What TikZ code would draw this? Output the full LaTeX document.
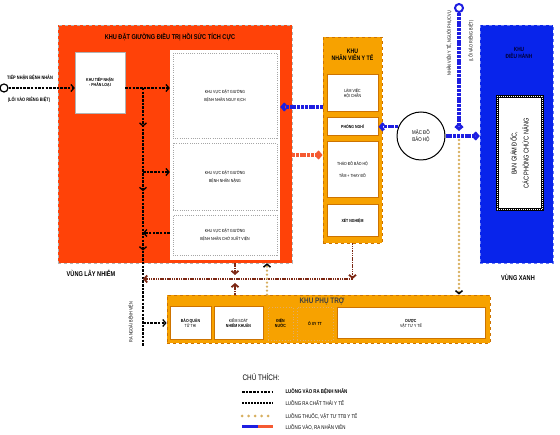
\documentclass[tikz,border=0pt]{standalone}
\usepackage{fontspec}
\setmainfont{Liberation Sans}[FakeStretch=0.8]
\usetikzlibrary{arrows.meta,positioning,decorations.markings}

\definecolor{vungdo}{RGB}{255,66,8}
\definecolor{camkhu}{RGB}{247,162,0}
\definecolor{viencam}{RGB}{205,115,0}
\definecolor{xanhkhu}{RGB}{8,36,235}
\definecolor{nauthai}{RGB}{125,40,20}
\definecolor{vangthuoc}{RGB}{215,175,95}
\definecolor{xanhnv}{RGB}{30,30,225}
\definecolor{donv}{RGB}{245,90,50}

\newcommand{\chunho}{\fontsize{4.4}{8}\selectfont}
\newcommand{\chuvua}{\fontsize{5.5}{6.5}\selectfont}
\newcommand{\chulon}{\fontsize{7}{8}\selectfont\bfseries}

\tikzset{
  muiten/.style={-{Straight Barb[length=3pt,width=7pt]}},
  luongbn/.style={black,line width=1.3pt,dash pattern=on 2.5pt off 1.2pt},
  luongrac/.style={nauthai,line width=1.8pt,dash pattern=on 1.5pt off 0.8pt},
  luongthuoc/.style={vangthuoc,line width=2.6pt,line cap=round,dash pattern=on 0pt off 4pt},
  luongnv/.style={xanhnv,line width=3.2pt,dash pattern=on 3pt off 0.8pt},
  luongra/.style={donv,line width=3.2pt,dash pattern=on 3pt off 0.8pt},
  vungcam/.style={draw=viencam,dashed,fill=camkhu,line width=0.8pt},
  ophong/.style={draw=viencam,fill=white,line width=1pt,font=\chunho,align=center},
  ophu/.style={draw=viencam!60,dotted,fill=camkhu,line width=0.8pt,font=\chunho\bfseries,align=center},
  ogiuong/.style={draw=gray!70,dash pattern=on 1pt off 1.2pt,line width=0.8pt,font=\chunho,align=center},
  cuavao/.style={circle,draw,fill=white,line width=1.2pt,minimum size=8pt,inner sep=0pt},
  nhan/.style={font=\chunho,align=center}
}

\begin{document}
\begin{tikzpicture}[x=1pt,y=-1pt]
\useasboundingbox (0,0) rectangle (560,435);

\node[draw=gray!60,dashed,fill=vungdo,minimum width=234pt,minimum height=238pt] (khuDo) at (175,144) {};
\node[font=\chulon] (tieuDeDo) at (170,37) {KHU ĐẶT GIƯỜNG ĐIỀU TRỊ HỒI SỨC TÍCH CỰC};
\node[draw=gray!60,fill=white,minimum width=50pt,minimum height=61pt,font=\chunho\bfseries,align=center] (tiepNhan) at (100,82.5) {KHU TIẾP NHẬN\\[-3pt]- PHÂN LOẠI};
\node[fill=white,minimum width=110pt,minimum height=210pt] (vungTrang) at (225,155) {};
\node[ogiuong,minimum width=104pt,minimum height=85pt] (nguyKich) at (225,95.5) {KHU VỰC ĐẶT GIƯỜNG\\BỆNH NHÂN NGUY KỊCH};
\node[ogiuong,minimum width=104pt,minimum height=67pt] (nang) at (225,176.5) {KHU VỰC ĐẶT GIƯỜNG\\BỆNH NHÂN NẶNG};
\node[ogiuong,minimum width=104pt,minimum height=40pt] (choXV) at (225,235) {KHU VỰC ĐẶT GIƯỜNG\\BỆNH NHÂN CHỜ XUẤT VIỆN};
\node[font=\chulon] (vungLay) at (91,273) {VÙNG LÂY NHIỄM};

\node[cuavao] (vaoBN) at (4,88) {};
\node[nhan,font=\fontsize{4.9}{5}\selectfont\bfseries] (nhanVaoBN) at (30,78) {TIẾP NHẬN BỆNH NHÂN};
\node[nhan,font=\fontsize{4.9}{5}\selectfont\bfseries] (nhanLoiBN) at (29,100) {(LỐI VÀO RIÊNG BIỆT)};

\node[vungcam,minimum width=59pt,minimum height=206pt] (khuNV) at (352.5,140) {};
\node[font=\fontsize{6.5}{6.5}\selectfont\bfseries,align=center] (tieuDeNV) at (352.5,55) {KHU\\NHÂN VIÊN Y TẾ};
\node[ophong,minimum width=51pt,minimum height=37pt] (lamViec) at (352.5,93.5) {LÀM VIỆC\\[-3pt]HỘI CHẨN};
\node[ophong,minimum width=51pt,minimum height=18pt,font=\chunho\bfseries] (phongNghi) at (352.5,127) {PHÒNG NGHỈ};
\node[ophong,minimum width=51pt,minimum height=56pt] (thaoDo) at (352.5,170) {THÁO ĐỒ BẢO HỘ\\[4pt]TẮM + THAY ĐỒ};
\node[ophong,minimum width=51pt,minimum height=32pt,font=\chunho\bfseries] (xetNghiem) at (352.5,221) {XÉT NGHIỆM};

\node[circle,draw,fill=white,line width=1pt,minimum size=48pt,font=\chuvua,align=center] (macDo) at (421,136) {MẶC ĐỒ\\BẢO HỘ};

\node[cuavao,draw=xanhnv,line width=2pt] (vaoNV) at (459,8) {};
\node[nhan,rotate=90,font=\fontsize{4.8}{5}\selectfont] (nhanVaoNV) at (449,43) {NHÂN VIÊN Y TẾ, NGƯỜI PHỤC VỤ};
\node[nhan,rotate=90,font=\fontsize{4.8}{5}\selectfont] (nhanLoiNV) at (471,41) {(LỐI VÀO RIÊNG BIỆT)};

\node[draw=xanhkhu!60,dashed,fill=xanhkhu,minimum width=73pt,minimum height=238pt] (khuDH) at (516.5,144) {};
\node[font=\fontsize{6}{6.5}\selectfont\bfseries,text=blue!20!black,align=center] (tieuDeDH) at (519,53) {KHU\\ĐIỀU HÀNH};
\node[draw=black,fill=white,line width=3pt,minimum width=45pt,minimum height=113pt,
  postaction={draw=white,line width=1pt,dash pattern=on 0.8pt off 1.2pt}] (banGD) at (519.5,153.5) {};
\node[rotate=90,font=\fontsize{7}{12}\selectfont,align=center] (nhanBanGD) at (banGD) {BAN GIÁM ĐỐC,\\CÁC PHÒNG CHỨC NĂNG};
\node[font=\chulon] (vungXanh) at (518,277) {VÙNG XANH};

\node[vungcam,minimum width=323pt,minimum height=48pt] (khuPT) at (328.5,319) {};
\node[font=\fontsize{8}{8}\selectfont\bfseries,text=black!75] (tieuDePT) at (322,301) {KHU PHỤ TRỢ};
\node[ophong,minimum width=41pt,minimum height=33pt] (baoQuan) at (190.5,323.5) {\textbf{BẢO QUẢN}\\[-3pt]TỬ THI};
\node[ophong,minimum width=49pt,minimum height=33pt] (kiemSoat) at (238.5,323.5) {KIỂM SOÁT\\[-3pt]\textbf{NHIỄM KHUẨN}};
\node[ophu,minimum width=25pt,minimum height=33pt] (dienNuoc) at (280.5,323.5) {ĐIỆN\\[-3pt]NƯỚC};
\node[ophu,minimum width=36pt,minimum height=33pt] (oxy) at (315,323.5) {Ô XY TT};
\node[ophong,minimum width=148pt,minimum height=31pt] (duoc) at (411,323.5) {\textbf{DƯỢC}\\[-3pt]VẬT TƯ Y TẾ};
\node[nhan,rotate=90,font=\fontsize{4.8}{5}\selectfont] (nhanRaNgoai) at (131,322) {RA NGOÀI BỆNH VIỆN};

\coordinate (j1) at (143,88);
\coordinate (j2) at (143,172);
\coordinate (j3) at (143,233);
\coordinate (j4) at (143,279);
\coordinate (j5) at (143,323);
\coordinate (raNgoai) at (143,346);
\coordinate (r1) at (352.5,279);
\coordinate (r2) at (235,279);
\coordinate (t1) at (267,0);
\coordinate (b2) at (459,136);
\coordinate (b3) at (323,107);
\coordinate (d1) at (292,155);

\draw[luongbn,muiten] (vaoBN) -- (tiepNhan.west |- vaoBN);
\draw[luongbn,muiten] (tiepNhan.east |- j1) -- (vungTrang.west |- j1);
\draw[luongbn,postaction={decorate},decoration={markings,
  mark=at position 0.15 with {\arrow{Straight Barb[length=3pt,width=7pt]}},
  mark=at position 0.40 with {\arrow{Straight Barb[length=3pt,width=7pt]}},
  mark=at position 0.63 with {\arrow{Straight Barb[length=3pt,width=7pt]}}}] (j1) -- (raNgoai);
\draw[luongbn,muiten] (j2) -- (vungTrang.west |- j2);
\draw[luongbn,muiten] (vungTrang.west |- j3) -- (j3);
\draw[luongbn,muiten] (j5) -- (khuPT.west |- j5);

\draw[luongrac,muiten] (khuNV.south) -- (r1);
\draw[luongrac,muiten] (r1) -- (j4);
\draw[luongrac,muiten,shorten >=4pt] (khuDo.south -| r2) -- (r2);
\draw[luongrac,muiten,shorten >=4pt] (khuPT.north -| r2) -- (r2);

\draw[luongthuoc,-{Straight Barb[length=3pt,width=7pt,black,line width=1.5pt]}] (khuPT.north -| t1) -- (khuDo.south -| t1);
\draw[luongthuoc,-{Straight Barb[length=3pt,width=7pt,black,line width=1.5pt]}] (b2) -- (khuPT.north -| b2);

\draw[luongnv,muiten,shorten >=5pt] (vaoNV) -- (b2);
\draw[luongnv,muiten] (macDo.east) -- (khuDH.west |- macDo.east);
\draw[luongnv,muiten] (macDo.158) -- (phongNghi.east |- macDo.158);
\draw[luongnv,muiten] (b3) -- (vungTrang.east |- b3);
\draw[luongra,muiten] (d1) -- (khuNV.west |- d1);

\node[anchor=west,font=\fontsize{8}{8}\selectfont] (chuThich) at (239,377) {CHÚ THÍCH:};
\coordinate (l1a) at (242,392); \coordinate (l1b) at (273,392);
\coordinate (l2a) at (242,403); \coordinate (l2b) at (273,403);
\coordinate (l3a) at (242,416); \coordinate (l3b) at (273,416);
\coordinate (l4a) at (242,427); \coordinate (l4m) at (258,427); \coordinate (l4b) at (273,427);
\draw[black,line width=1.2pt,dash pattern=on 2.5pt off 1.2pt] (l1a) -- (l1b);
\draw[black,line width=1.2pt,dash pattern=on 1.5pt off 1.5pt] (l2a) -- (l2b);
\draw[vangthuoc,line width=3pt,line cap=round,dash pattern=on 0pt off 6.5pt] (l3a) -- (l3b);
\draw[xanhnv,line width=3pt] (l4a) -- (l4m);
\draw[donv,line width=3pt] (l4m) -- (l4b);
\node[anchor=west,font=\chuvua\bfseries] (ct1) at (282,392) {LUỒNG VÀO RA  BỆNH NHÂN};
\node[anchor=west,font=\chuvua] (ct2) at (282,403) {LUỒNG  RA  CHẤT THẢI Y TẾ};
\node[anchor=west,font=\chuvua] (ct3) at (282,416) {LUỒNG THUỐC, VẬT TƯ TTB Y TẾ};
\node[anchor=west,font=\chuvua] (ct4) at (282,427) {LUỒNG VÀO, RA  NHÂN VIÊN};
\end{tikzpicture}
\end{document}
